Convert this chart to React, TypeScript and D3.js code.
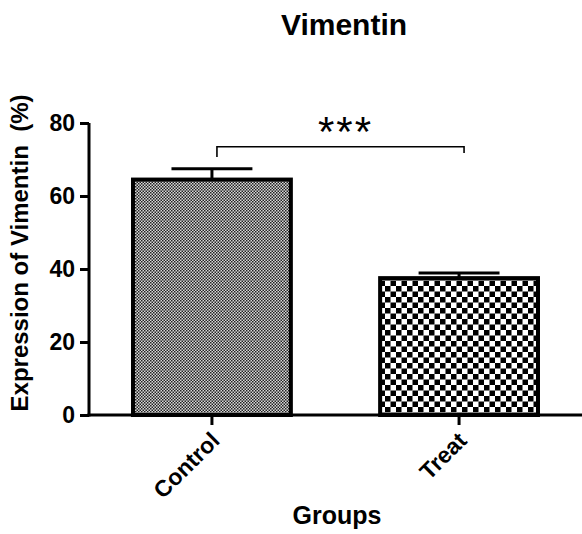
import { useRef, useEffect } from "react";
import * as d3 from "d3";

const groups = ["Control", "Treat"];
const means = [64.5, 37.5];
const sems = [3.0, 1.4];
const yTicks = [0, 20, 40, 60, 80];
const bracket = { from: "Control", to: "Treat", y: 73.5, leftDrop: 70.7, rightDrop: 71.8, label: "***" };

const W = 582;
const H = 534;
const FONT = "'Liberation Sans', Arial, Helvetica, sans-serif";

const App = () => {
  const svgRef = useRef<SVGSVGElement>(null);

  useEffect(() => {
    const svg = d3.select(svgRef.current);
    svg.selectAll("*").remove();

    const left = 89;
    const right = 582;
    const top = 123;
    const bottom = 415;

    const defs = svg.append("defs");
    // fine checker for Control
    const p1 = defs
      .append("pattern")
      .attr("id", "fine")
      .attr("patternUnits", "userSpaceOnUse")
      .attr("width", 3)
      .attr("height", 3);
    p1.append("rect").attr("width", 3).attr("height", 3).attr("fill", "#d8d8d8");
    p1.append("rect").attr("width", 1.5).attr("height", 1.5).attr("fill", "#222");
    p1.append("rect").attr("x", 1.5).attr("y", 1.5).attr("width", 1.5).attr("height", 1.5).attr("fill", "#222");
    // coarse checker for Treat
    const p2 = defs
      .append("pattern")
      .attr("id", "coarse")
      .attr("patternUnits", "userSpaceOnUse")
      .attr("width", 11)
      .attr("height", 11);
    p2.append("rect").attr("width", 11).attr("height", 11).attr("fill", "#fff");
    p2.append("rect").attr("width", 5.5).attr("height", 5.5).attr("fill", "#000");
    p2.append("rect").attr("x", 5.5).attr("y", 5.5).attr("width", 5.5).attr("height", 5.5).attr("fill", "#000");
    const fills = ["url(#fine)", "url(#coarse)"];

    const x = d3
      .scaleBand()
      .domain(groups)
      .range([left, right])
      .paddingInner(0.345)
      .paddingOuter(0.17);
    const y = d3.scaleLinear().domain([0, 80]).range([bottom, top]);

    const data = groups.map((g, i) => ({ g, mean: means[i], sem: sems[i], fill: fills[i] }));

    // bars
    svg
      .append("g")
      .selectAll("rect")
      .data(data)
      .join("rect")
      .attr("x", (d) => x(d.g)! + 2)
      .attr("y", (d) => y(d.mean))
      .attr("width", x.bandwidth() - 4)
      .attr("height", (d) => y(0) - y(d.mean))
      .attr("fill", (d) => d.fill)
      .attr("stroke", "#000")
      .attr("stroke-width", 4);

    // error bars
    const eb = svg.append("g").attr("stroke", "#000").attr("stroke-width", 3);
    data.forEach((d) => {
      const cx = x(d.g)! + x.bandwidth() / 2;
      eb.append("line")
        .attr("x1", cx)
        .attr("x2", cx)
        .attr("y1", y(d.mean))
        .attr("y2", y(d.mean + d.sem));
      eb.append("line")
        .attr("x1", cx - x.bandwidth() / 4)
        .attr("x2", cx + x.bandwidth() / 4)
        .attr("y1", y(d.mean + d.sem))
        .attr("y2", y(d.mean + d.sem));
    });

    // y axis
    const yAxis = svg
      .append("g")
      .attr("transform", `translate(${left},0)`)
      .call(d3.axisLeft(y).tickValues(yTicks).tickSize(9).tickPadding(5));
    yAxis.select(".domain").attr("stroke-width", 3).attr("d", `M0,${top}V${bottom + 1.5}`);
    yAxis.selectAll(".tick line").attr("stroke-width", 3);
    yAxis
      .selectAll(".tick text")
      .attr("font-family", FONT)
      .attr("font-weight", "bold")
      .attr("font-size", 23)
      .attr("dy", "0.34em")
      .attr("fill", "#000");

    // x axis
    const xAxis = svg
      .append("g")
      .attr("transform", `translate(0,${bottom})`)
      .call(d3.axisBottom(x).tickSize(10).tickFormat(() => ""));
    xAxis.select(".domain").attr("stroke-width", 3).attr("d", `M${left - 1.5},0H${right}`);
    xAxis.selectAll(".tick line").attr("stroke-width", 3);

    svg
      .append("g")
      .selectAll("text")
      .data(groups)
      .join("text")
      .attr("transform", (d) => `translate(${x(d)! + x.bandwidth() / 2 + 9},${bottom + 27}) rotate(-45)`)
      .attr("text-anchor", "end")
      .attr("font-family", FONT)
      .attr("font-weight", "bold")
      .attr("font-size", 23)
      .text((d) => d);

    // significance bracket
    const bx1 = x(bracket.from)! + x.bandwidth() / 2 + 5;
    const bx2 = x(bracket.to)! + x.bandwidth() / 2 + 5;
    svg
      .append("path")
      .attr(
        "d",
        `M${bx1},${y(bracket.leftDrop)}V${y(bracket.y)}H${bx2}V${y(bracket.rightDrop)}`
      )
      .attr("fill", "none")
      .attr("stroke", "#000")
      .attr("stroke-width", 1.6);
    svg
      .append("text")
      .attr("x", (bx1 + bx2) / 2 + 5)
      .attr("y", y(bracket.y) - 1)
      .attr("text-anchor", "middle")
      .attr("font-family", FONT)
      .attr("font-size", 42)
      .attr("letter-spacing", 2)
      .text(bracket.label);

    // title
    svg
      .append("text")
      .attr("x", 344)
      .attr("y", 35)
      .attr("text-anchor", "middle")
      .attr("font-family", FONT)
      .attr("font-weight", "bold")
      .attr("font-size", 30)
      .text("Vimentin");

    // axis titles
    svg
      .append("text")
      .attr("transform", `translate(28,253) rotate(-90)`)
      .attr("text-anchor", "middle")
      .attr("font-family", FONT)
      .attr("font-weight", "bold")
      .attr("font-size", 24)
      .attr("xml:space", "preserve")
      .style("white-space", "pre")
      .text("Expression of Vimentin  (%)");

    svg
      .append("text")
      .attr("x", 337)
      .attr("y", 524)
      .attr("text-anchor", "middle")
      .attr("font-family", FONT)
      .attr("font-weight", "bold")
      .attr("font-size", 25)
      .text("Groups");
  }, []);

  return (
    <div style={{ position: "absolute", left: 0, top: 0 }}>
      <svg ref={svgRef} width={W} height={H} style={{ display: "block", background: "#fff" }}></svg>
    </div>
  );
};

export default App;
